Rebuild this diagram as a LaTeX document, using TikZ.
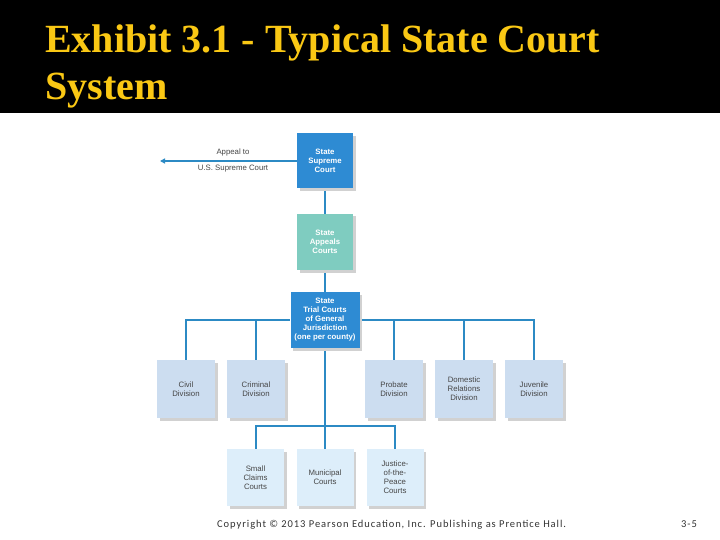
\documentclass[tikz,border=0pt]{standalone}
\usepackage{fontspec}
\setmainfont{Liberation Serif}
\newfontfamily\boxfont{Liberation Sans}
\newfontfamily\footfont[LetterSpace=9]{Carlito}
\usetikzlibrary{shadows,arrows.meta,backgrounds}
\definecolor{titleyellow}{RGB}{250,200,20}
\definecolor{darkblue}{RGB}{46,139,211}
\definecolor{teal}{RGB}{127,204,192}
\definecolor{divblue}{RGB}{204,221,240}
\definecolor{lowblue}{RGB}{221,238,250}
\definecolor{linecol}{RGB}{44,138,196}
\definecolor{txtgray}{RGB}{70,70,70}
\tikzset{
  court/.style={minimum width=#1, inner sep=1pt, align=center,
    drop shadow={shadow xshift=2.5pt, shadow yshift=-2.5pt, fill=black!18, opacity=1}},
  boldtxt/.style={text=white, font=\boxfont\bfseries\fontsize{7.8}{9}\selectfont},
  plaintxt/.style={text=txtgray, font=\boxfont\fontsize{7.8}{9}\selectfont},
  topbox/.style={court=#1, fill=darkblue, boldtxt},
  divbox/.style={court=58pt, minimum height=58pt, fill=divblue, plaintxt},
  lowbox/.style={court=57pt, minimum height=57pt, fill=lowblue, plaintxt},
  conn/.style={draw=linecol, line width=2pt},
  lbl/.style={plaintxt, inner sep=0pt}
}
\begin{document}
\begin{tikzpicture}[x=1pt,y=-1pt]
\useasboundingbox (0,0) rectangle (720,540);
\node[anchor=base west, inner sep=0pt, text=titleyellow, font=\bfseries\fontsize{40}{47}\selectfont] (title1) at (45,53) {Exhibit 3.1 - Typical State Court};
\node[anchor=base west, inner sep=0pt, text=titleyellow, font=\bfseries\fontsize{40}{47}\selectfont] (title2) at (45,100) {System};

\node[topbox=56pt, minimum height=55pt] (supreme) at (325,161) {State\\Supreme\\Court};
\node[court=56pt, minimum height=56pt, fill=teal, boldtxt] (appeals) at (325,242) {State\\Appeals\\Courts};
\node[topbox=69pt, minimum height=56pt] (trial) at (325,320) {State\\Trial Courts\\of General\\Jurisdiction\\(one per county)};

\node[divbox] (civil) at (186,389) {Civil\\Division};
\node[divbox] (criminal) at (256,389) {Criminal\\Division};
\node[divbox] (probate) at (394,389) {Probate\\Division};
\node[divbox] (domestic) at (464,389) {Domestic\\Relations\\Division};
\node[divbox] (juvenile) at (534,389) {Juvenile\\Division};

\node[lowbox] (small) at (255.5,477.5) {Small\\Claims\\Courts};
\node[lowbox] (municipal) at (325,477.5) {Municipal\\Courts};
\node[lowbox] (justice) at (395,477.5) {Justice-\\of-the-\\Peace\\Courts};

\coordinate (appealend) at (160,161);
\coordinate (bus) at (325,426);

\begin{pgfonlayer}{background}
\fill[white] (0,0) rectangle (720,540);
\fill[black] (0,0) rectangle (720,113);
\draw[conn] (supreme.south) -- (appeals.north);
\draw[conn] (appeals.south) -- (trial.north);
\draw[conn] (civil.north) |- (trial.west);
\draw[conn] (juvenile.north) |- (trial.east);
\draw[conn] (criminal.north) -- (criminal.north |- trial.west);
\draw[conn] (probate.north) -- (probate.north |- trial.east);
\draw[conn] (domestic.north) -- (domestic.north |- trial.east);
\draw[conn] (trial.south) -- (bus) -- (municipal.north);
\draw[conn] (small.north) |- (bus) -| (justice.north);
\end{pgfonlayer}
\draw[conn, line width=1.6pt, -{Triangle[length=5pt,width=5pt]}] (supreme.west) -- (appealend);
\node[lbl] (appeallbl) at (233,152) {Appeal to};
\node[lbl] (uslbl) at (233,169) {U.S. Supreme Court};

\node[anchor=base west, inner sep=0pt, font=\footfont\fontsize{10.5}{12}\selectfont, text=black!80] (foot) at (217,527) {Copyright © 2013 Pearson Education, Inc. Publishing as Prentice Hall.};
\node[anchor=base west, inner sep=0pt, font=\footfont\fontsize{10.5}{12}\selectfont, text=black!80] (page) at (681,527) {3-5};
\end{tikzpicture}
\end{document}
